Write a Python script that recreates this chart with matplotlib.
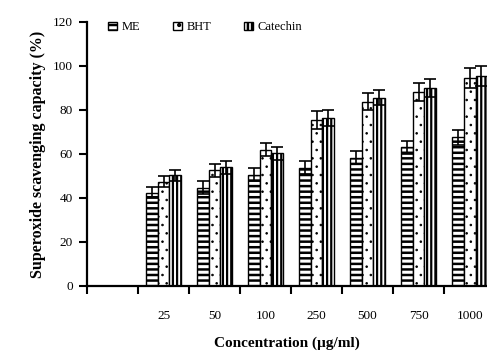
import numpy as np
import matplotlib
matplotlib.use("Agg")
from matplotlib import pyplot as plt

concentrations = ["", "25", "50", "100", "250", "500", "750", "1000"]
me_values = [0, 42.4, 44.7, 50.5, 53.8, 58.3, 63.0, 67.6]
bht_values = [0, 47.4, 52.5, 62.0, 75.5, 83.8, 88.3, 94.4]
catechin_values = [0, 50.3, 54.0, 60.3, 76.4, 85.6, 90.0, 95.6]
me_err = [0, 2.5, 3.0, 3.0, 3.0, 3.0, 3.0, 3.5]
bht_err = [0, 2.5, 3.0, 3.0, 4.0, 4.0, 4.0, 4.5]
catechin_err = [0, 2.5, 3.0, 3.0, 3.5, 3.5, 4.0, 4.5]

plt.rcParams['font.family'] = ['Liberation Serif', 'DejaVu Serif']
plt.rcParams['hatch.linewidth'] = 1.8

fig = plt.figure(figsize=(4.87, 3.6), dpi=100)
ax = fig.add_axes([0.1786, 0.2056, 0.8214, 0.7333])

x = np.arange(len(concentrations))
width = 0.23
series = [
    ("ME", me_values, me_err, "---", -width, 1.8),
    ("BHT", bht_values, bht_err, "..", 0, 0.6),
    ("Catechin", catechin_values, catechin_err, "||||", width, 1.6),
]

for label, vals, err, hatch, offset, hlw in series:
    # first category has no bars
    xs = x[1:] + offset
    v = np.array(vals[1:])
    e = np.array(err[1:])
    bars = ax.bar(xs, v, width, color="white", edgecolor="black", hatch=hatch,
                  linewidth=1.0, label=label, zorder=2)
    for b in bars:
        if hasattr(b, "set_hatch_linewidth"):
            b.set_hatch_linewidth(hlw)
    ax.errorbar(xs, v, yerr=e, fmt="none", ecolor="black", elinewidth=1.2,
                capsize=4, capthick=1.2, zorder=3)

ax.set_xlim(-0.5, 7.34)
ax.set_ylim(0, 120)
ax.set_yticks(np.arange(0, 121, 20))
ax.set_xticks(x)
ax.set_xticklabels(concentrations)
ax.set_xticks(np.arange(-0.5, 7.5, 1), minor=True)
ax.tick_params(axis="x", which="major", length=0, pad=17, labelsize=9.5)
ax.tick_params(axis="x", which="minor", length=6, width=1.5, direction="out")
ax.tick_params(axis="y", length=6, width=1.5, labelsize=9.5, pad=4)

for s in ["top", "right"]:
    ax.spines[s].set_visible(False)
for s in ["left", "bottom"]:
    ax.spines[s].set_linewidth(1.6)

ax.set_ylabel("Superoxide scavenging capacity (%)", fontsize=11.5,
              fontweight="bold", labelpad=5)
ax.set_xlabel("Concentration (\u00b5g/ml)", fontsize=11, fontweight="bold",
              labelpad=11)

ax.legend(loc="upper left", bbox_to_anchor=(0.025, 1.045), ncol=3, frameon=False,
          fontsize=9, handlelength=0.7, handleheight=0.7, columnspacing=2.6,
          handletextpad=0.4)

fig.savefig("out.png", dpi=100)
